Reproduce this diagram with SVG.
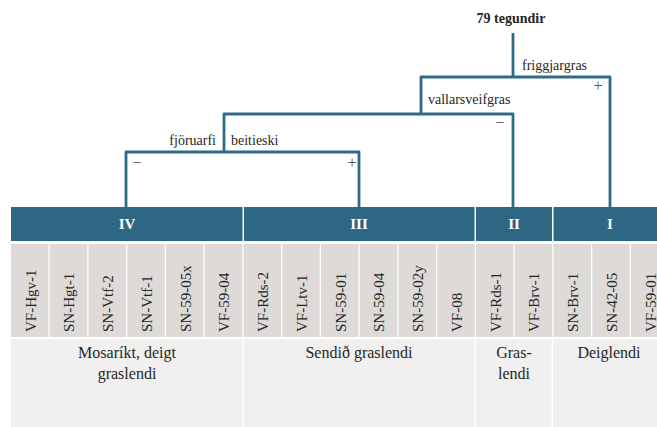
<svg xmlns="http://www.w3.org/2000/svg" width="657" height="427" viewBox="0 0 657 427">
<style>
.hdr{fill:#2d6783}
.cell{fill:#dddad7}
.pan{fill:#f1f0ee}
.ln{fill:none;stroke:#2f6a86;stroke-width:2.8;stroke-linejoin:round;stroke-linecap:butt}
.lbl{font-family:"Liberation Serif",serif;font-size:14px;fill:#262626}
.sign{font-family:"Liberation Serif",serif;font-size:16px;fill:#555;text-anchor:middle}
.hl{font-family:"Liberation Serif",serif;font-size:15px;font-weight:bold;fill:#ffffff;text-anchor:middle}
.ct{font-family:"Liberation Serif",serif;font-size:15px;fill:#262626}
.bt{font-family:"Liberation Serif",serif;font-size:16px;fill:#262626;text-anchor:middle}
</style>
<rect width="657" height="427" fill="#ffffff"/>
<g id="connectors">
<path class="ln" d="M513,33 V77"/>
<path class="ln" d="M421,114 V77 H610 V208"/>
<path class="ln" d="M224,152 V114 H513 V208"/>
<path class="ln" d="M126,208 V152 H359 V208"/>
</g>
<g id="root"><text x="511" y="23" class="lbl" font-weight="bold" text-anchor="middle">79 tegundir</text></g>
<g id="labels">
<text x="522" y="70" class="lbl">friggjargras</text>
<text x="598" y="91" class="sign">+</text>
<text x="500" y="128" class="sign">−</text>
<text x="428" y="104" class="lbl">vallarsveifgras</text>
<text x="216" y="145" class="lbl" text-anchor="end">fjöruarfi</text>
<text x="231" y="145" class="lbl">beitieski</text>
<text x="137" y="168" class="sign">−</text>
<text x="352" y="168" class="sign">+</text>
</g>
<g id="group-IV">
<rect class="hdr" x="11" y="207" width="231.5" height="34"/>
<text class="hl" x="127" y="229">IV</text>
<rect class="pan" x="11" y="339" width="231.5" height="88"/>
<text class="bt" x="127" y="358">Mosaríkt, deigt</text>
<text class="bt" x="127" y="379">graslendi</text>
</g>
<g id="group-III">
<rect class="hdr" x="244" y="207" width="230.5" height="34"/>
<text class="hl" x="359" y="229">III</text>
<rect class="pan" x="244" y="339" width="230.5" height="88"/>
<text class="bt" x="359" y="358">Sendið graslendi</text>
</g>
<g id="group-II">
<rect class="hdr" x="476" y="207" width="76" height="34"/>
<text class="hl" x="514" y="229">II</text>
<rect class="pan" x="476" y="339" width="75.5" height="88"/>
<text class="bt" x="514" y="358">Gras-</text>
<text class="bt" x="514" y="379">lendi</text>
</g>
<g id="group-I">
<rect class="hdr" x="553.5" y="207" width="104" height="34"/>
<text class="hl" x="610" y="229">I</text>
<rect class="pan" x="553" y="339" width="104" height="88"/>
<text class="bt" x="609" y="358">Deiglendi</text>
</g>
<g id="cells">
<rect class="cell" x="11" y="244" width="37.5" height="93"/>
<rect class="cell" x="49.75" y="244" width="37.5" height="93"/>
<rect class="cell" x="88.5" y="244" width="37.5" height="93"/>
<rect class="cell" x="127.25" y="244" width="37.5" height="93"/>
<rect class="cell" x="166" y="244" width="37.5" height="93"/>
<rect class="cell" x="204.75" y="244" width="37.5" height="93"/>
<rect class="cell" x="243.5" y="244" width="37.5" height="93"/>
<rect class="cell" x="282.25" y="244" width="37.5" height="93"/>
<rect class="cell" x="321" y="244" width="37.5" height="93"/>
<rect class="cell" x="359.75" y="244" width="37.5" height="93"/>
<rect class="cell" x="398.5" y="244" width="37.5" height="93"/>
<rect class="cell" x="437.25" y="244" width="37.5" height="93"/>
<rect class="cell" x="476" y="244" width="37.5" height="93"/>
<rect class="cell" x="514.75" y="244" width="37.5" height="93"/>
<rect class="cell" x="553.5" y="244" width="37.5" height="93"/>
<rect class="cell" x="592.25" y="244" width="37.5" height="93"/>
<rect class="cell" x="631" y="244" width="37.5" height="93"/>
</g>
<g id="cell-labels">
<text class="ct" transform="translate(35.5,332) rotate(-90)">VF-Hgv-1</text>
<text class="ct" transform="translate(74.3,332) rotate(-90)">SN-Hgt-1</text>
<text class="ct" transform="translate(113,332) rotate(-90)">SN-Vtf-2</text>
<text class="ct" transform="translate(151.8,332) rotate(-90)">SN-Vtf-1</text>
<text class="ct" transform="translate(190.5,332) rotate(-90)">SN-59-05x</text>
<text class="ct" transform="translate(229.3,332) rotate(-90)">VF-59-04</text>
<text class="ct" transform="translate(268,332) rotate(-90)">VF-Rds-2</text>
<text class="ct" transform="translate(306.8,332) rotate(-90)">VF-Ltv-1</text>
<text class="ct" transform="translate(345.5,332) rotate(-90)">SN-59-01</text>
<text class="ct" transform="translate(384.3,332) rotate(-90)">SN-59-04</text>
<text class="ct" transform="translate(423,332) rotate(-90)">SN-59-02y</text>
<text class="ct" transform="translate(461.8,332) rotate(-90)">VF-08</text>
<text class="ct" transform="translate(500.5,332) rotate(-90)">VF-Rds-1</text>
<text class="ct" transform="translate(539.3,332) rotate(-90)">VF-Brv-1</text>
<text class="ct" transform="translate(578,332) rotate(-90)">SN-Brv-1</text>
<text class="ct" transform="translate(616.8,332) rotate(-90)">SN-42-05</text>
<text class="ct" transform="translate(655.5,332) rotate(-90)">VF-59-01</text>
</g>
</svg>
